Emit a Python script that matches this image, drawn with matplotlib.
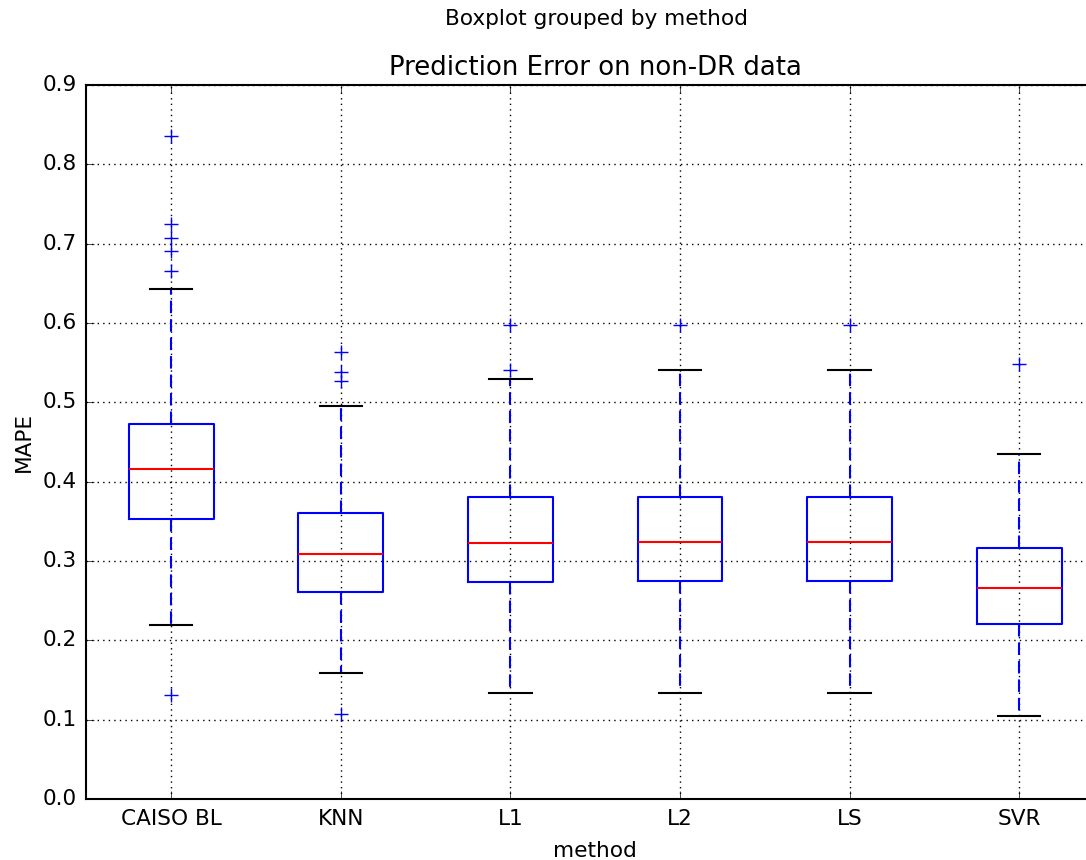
import matplotlib
matplotlib.use("Agg")
import matplotlib.pyplot as plt

plt.style.use("classic")

methods = ["CAISO BL", "KNN", "L1", "L2", "LS", "SVR"]
q1 = [0.353, 0.261, 0.274, 0.275, 0.275, 0.220]
medians = [0.416, 0.309, 0.323, 0.324, 0.324, 0.266]
q3 = [0.473, 0.360, 0.381, 0.381, 0.381, 0.317]
whisker_low = [0.219, 0.159, 0.134, 0.134, 0.134, 0.104]
whisker_high = [0.643, 0.496, 0.530, 0.541, 0.541, 0.435]
outliers = [
    [0.836, 0.725, 0.707, 0.691, 0.666, 0.131],
    [0.564, 0.538, 0.527, 0.107],
    [0.598, 0.541],
    [0.598],
    [0.598],
    [0.548],
]

stats = []
for name, lo, a, m, b, hi, fl in zip(methods, whisker_low, q1, medians, q3,
                                      whisker_high, outliers):
    stats.append(dict(label=name, whislo=lo, q1=a, med=m, q3=b,
                      whishi=hi, fliers=fl))

fig = plt.figure(figsize=(10.86, 8.6), dpi=100, facecolor="white")
ax = fig.add_axes([0.0795, 0.071, 0.937, 0.830])

ax.bxp(
    stats,
    widths=0.5,
    boxprops=dict(color="blue", linewidth=1.5),
    whiskerprops=dict(color="blue", linestyle=(0, (9, 4.3)), linewidth=1.5),
    capprops=dict(color="black", linewidth=1.5),
    medianprops=dict(color="red", linewidth=1.5),
    flierprops=dict(marker="+", markeredgecolor="blue", markersize=10,
                    markeredgewidth=1.0, linestyle="none"),
)

ax.set_ylim(0.0, 0.9)
ax.set_yticks([i / 10 for i in range(10)])
ax.set_xlim(0.5, 6.5)
ax.grid(True, linestyle=":", color="black", linewidth=1.0)
ax.set_axisbelow(True)
ax.tick_params(labelsize=15.6, direction="in", length=6, pad=7)
for spine in ax.spines.values():
    spine.set_linewidth(1.5)

ax.set_xlabel("method", fontsize=15.6, labelpad=9)
ax.set_ylabel("MAPE", fontsize=15.6, labelpad=6)
ax.set_title("Prediction Error on non-DR data", fontsize=18.7, y=1.005)
fig.suptitle("Boxplot grouped by method", x=0.549, y=0.989, fontsize=15.6)

fig.savefig("out.png", dpi=100, facecolor="white")
